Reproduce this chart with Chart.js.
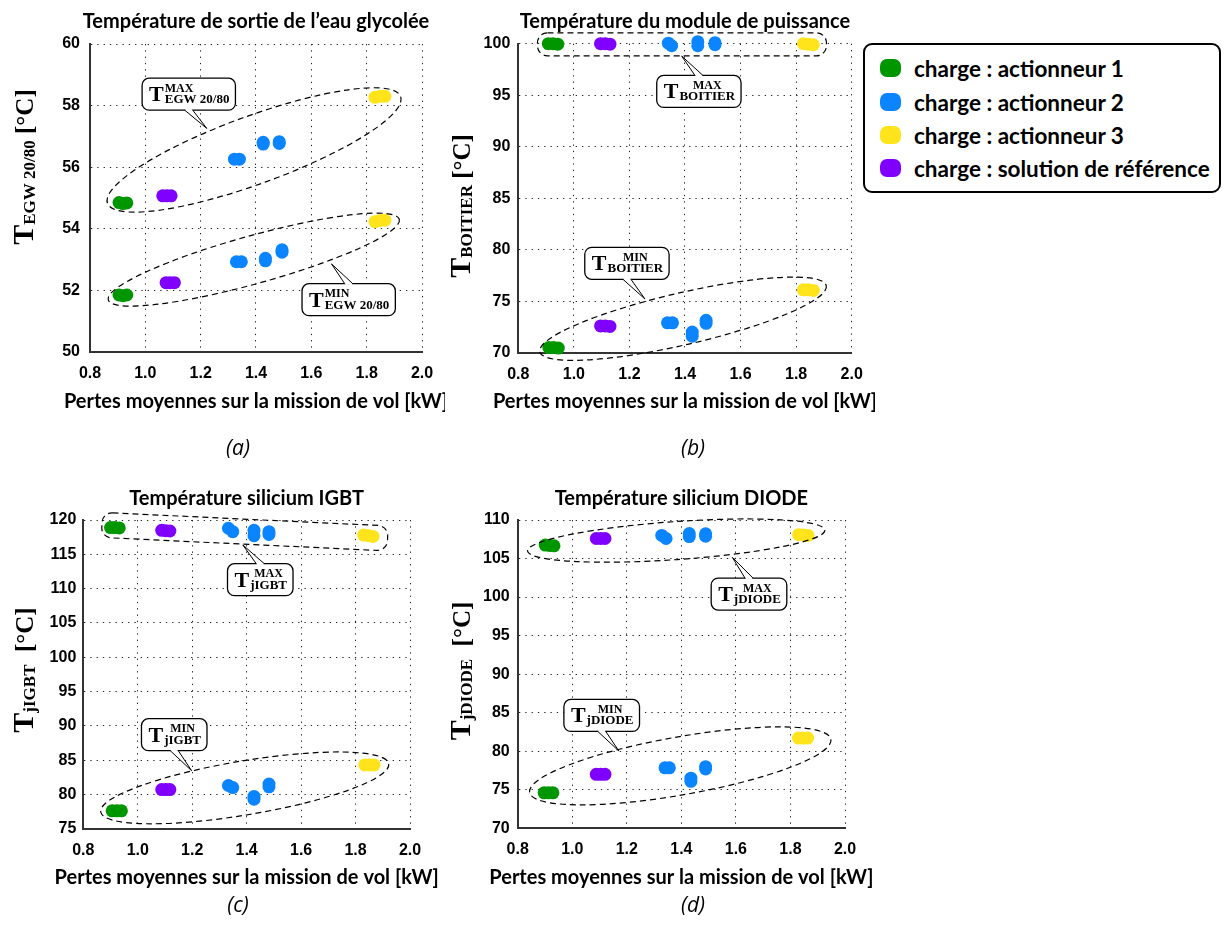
<!DOCTYPE html>
<html>
<head>
<meta charset="utf-8">
<script src="https://cdn.jsdelivr.net/npm/chart.js@4.4.1/dist/chart.umd.min.js"></script>
<style>
    body { margin: 0; background: #fff; width: 1228px; height: 940px; position: relative; overflow: hidden; font-family: Lato, sans-serif; }
    canvas { position: absolute; }
    .caption { position: absolute; width: 60px; text-align: center; font: italic 21px "Open Sans", sans-serif; color: #000; }
    .legend { position: absolute; left: 863px; top: 43px; width: 358px; height: 150px; border: 2px solid #000; border-radius: 9px; box-sizing: border-box; background: #fff; }
    .legend .item { position: absolute; left: 15px; height: 26px; display: flex; align-items: center; font: bold 22.5px Lato, sans-serif; color: #000; white-space: nowrap; }
    .legend .swatch { width: 21px; height: 18px; border-radius: 7px; margin-right: 13px; display: inline-block; }
</style>
</head>
<body>
<canvas id="cA" width="445" height="420" style="left:0;top:0"></canvas>
<canvas id="cB" width="445" height="420" style="left:430px;top:0"></canvas>
<canvas id="cC" width="445" height="440" style="left:0;top:460px"></canvas>
<canvas id="cD" width="445" height="440" style="left:430px;top:460px"></canvas>

<div class="caption" style="left:208px;top:433px">(a)</div>
<div class="caption" style="left:663px;top:433px">(b)</div>
<div class="caption" style="left:208px;top:890px">(c)</div>
<div class="caption" style="left:663px;top:890px">(d)</div>

<div class="legend" id="legend"></div>

<script>
/**
 * Températures vs pertes moyennes - 4 panneaux
 */

// Couleurs des séries
const COLORS = {
    act1: '#009600',
    act2: '#0a84ff',
    act3: '#ffe41c',
    ref: '#8000ff'
};

const SERIES_LABELS = [
    'charge : actionneur 1',
    'charge : actionneur 2',
    'charge : actionneur 3',
    'charge : solution de référence'
];

const X_TITLE = 'Pertes moyennes sur la mission de vol [kW]';

// (a) eau glycolée : groupe MAX puis groupe MIN
const egwAct1 = [[0.905, 54.85], [0.919, 54.82], [0.933, 54.84], [0.905, 51.85], [0.919, 51.83], [0.933, 51.85]];
const egwAct2 = [[1.322, 56.26], [1.34, 56.26], [1.426, 56.75], [1.426, 56.81], [1.484, 56.77], [1.484, 56.83],
                 [1.329, 52.93], [1.347, 52.93], [1.434, 52.96], [1.434, 53.04], [1.494, 53.24], [1.494, 53.32]];
const egwAct3 = [[1.83, 58.27], [1.848, 58.3], [1.866, 58.3], [1.83, 54.23], [1.848, 54.27], [1.866, 54.28]];
const egwRef = [[1.063, 55.07], [1.078, 55.07], [1.093, 55.07], [1.075, 52.25], [1.09, 52.25], [1.105, 52.25]];

// (b) module de puissance (boitier)
const boiAct1 = [[0.908, 100], [0.925, 100], [0.942, 99.95], [0.91, 70.5], [0.927, 70.5], [0.944, 70.45]];
const boiAct2 = [[1.34, 100.05], [1.352, 99.8], [1.446, 100.2], [1.446, 99.8], [1.508, 100.1], [1.508, 99.9],
                 [1.337, 72.9], [1.355, 72.9], [1.426, 72.0], [1.426, 71.6], [1.476, 73.15], [1.476, 72.85]];
const boiAct3 = [[1.826, 100], [1.844, 99.95], [1.862, 99.9], [1.826, 76.1], [1.844, 76.1], [1.862, 76.05]];
const boiRef = [[1.096, 100], [1.113, 100], [1.13, 99.95], [1.096, 72.6], [1.113, 72.6], [1.13, 72.55]];

// (c) silicium IGBT
const igbtAct1 = [[0.9, 118.9], [0.916, 118.9], [0.932, 118.85], [0.906, 77.6], [0.923, 77.6], [0.94, 77.6]];
const igbtAct2 = [[1.333, 118.8], [1.349, 118.3], [1.427, 118.5], [1.427, 117.7], [1.482, 118.3], [1.482, 117.9],
                  [1.333, 81.3], [1.349, 81.0], [1.427, 79.7], [1.427, 79.3], [1.482, 81.5], [1.482, 81.1]];
const igbtAct3 = [[1.83, 117.8], [1.847, 117.7], [1.864, 117.6], [1.834, 84.3], [1.851, 84.3], [1.868, 84.3]];
const igbtRef = [[1.088, 118.5], [1.103, 118.45], [1.118, 118.4], [1.088, 80.7], [1.103, 80.7], [1.118, 80.7]];

// (d) silicium DIODE
const diodeAct1 = [[0.901, 106.75], [0.917, 106.7], [0.933, 106.65], [0.897, 74.6], [0.913, 74.6], [0.929, 74.6]];
const diodeAct2 = [[1.328, 108.0], [1.344, 107.6], [1.429, 108.25], [1.429, 107.85], [1.489, 108.2], [1.489, 107.9],
                   [1.34, 77.85], [1.356, 77.85], [1.435, 76.5], [1.435, 76.1], [1.489, 78.0], [1.489, 77.7]];
const diodeAct3 = [[1.83, 108.1], [1.847, 108.05], [1.864, 108.0], [1.829, 81.7], [1.846, 81.7], [1.863, 81.7]];
const diodeRef = [[1.088, 107.6], [1.104, 107.6], [1.12, 107.6], [1.088, 77.0], [1.104, 77.0], [1.12, 77.0]];

// Axes
const X_RANGE = [0.8, 2.0];
const Y_RANGE_A = [50, 60];
const Y_RANGE_B = [70, 100];
const Y_RANGE_C = [75, 120];
const Y_RANGE_D = [70, 110];

// Panel setup: layout (pixels inside each canvas) and annotations
const PANELS = {
    cA: {
        title: 'Température de sortie de l\u2019eau glycolée',
        series: [egwAct1, egwAct2, egwAct3, egwRef],
        yRange: Y_RANGE_A, yStep: 2,
        plot: { left: 90, right: 422, top: 44, bottom: 352 },
        titleMid: 22, xTitleMid: 401.7, yPad: 10,
        yTitle: { x: 33, y: 167, sub: 'EGW 20/80', unit: ' [°C]' },
        ellipses: [
            { x: 1.393, y: 56.56, rx: 156, ry: 34, angle: 20 },
            { x: 1.392, y: 53.0, rx: 151, ry: 24, angle: 15.5 }
        ],
        rects: [],
        callouts: [
            { x: 1.157, y: 58.37, ax: 1.222, ay: 57.26, sup: 'MAX', sub: 'EGW 20/80', left: true },
            { x: 1.735, y: 51.70, ax: 1.673, ay: 52.86, sup: 'MIN', sub: 'EGW 20/80', left: true }
        ]
    },
    cB: {
        title: 'Température du module de puissance',
        series: [boiAct1, boiAct2, boiAct3, boiRef],
        yRange: Y_RANGE_B, yStep: 5,
        plot: { left: 88.3, right: 421.7, top: 43.7, bottom: 352.7 },
        titleMid: 22, xTitleMid: 401.7, yPad: 8,
        yTitle: { x: 40, y: 206, sub: 'BOITIER', unit: ' [°C]' },
        ellipses: [
            { x: 1.393, y: 73.3, rx: 147, ry: 26, angle: 13 }
        ],
        rects: [
            { x: 1.389, y: 99.94, w: 289, h: 23, r: 10, angle: 0 }
        ],
        callouts: [
            { x: 1.45, y: 95.37, ax: 1.388, ay: 98.8, sup: 'MAX', sub: 'BOITIER' },
            { x: 1.191, y: 78.68, ax: 1.256, ay: 75.21, sup: 'MIN', sub: 'BOITIER' }
        ]
    },
    cC: {
        title: 'Température silicium IGBT',
        series: [igbtAct1, igbtAct2, igbtAct3, igbtRef],
        yRange: Y_RANGE_C, yStep: 5,
        plot: { left: 83.3, right: 410, top: 60, bottom: 368.7 },
        titleMid: 38.3, xTitleMid: 417.3, yPad: 7,
        yTitle: { x: 33, y: 210, sub: 'jIGBT', unit: '  [°C]' },
        ellipses: [
            { x: 1.393, y: 80.95, rx: 146, ry: 27, angle: 9.5 }
        ],
        rects: [
            { x: 1.393, y: 118.3, w: 286, h: 25, r: 10, angle: 2.7 }
        ],
        callouts: [
            { x: 1.45, y: 111.3, ax: 1.386, ay: 116.36, sup: 'MAX', sub: 'jIGBT' },
            { x: 1.134, y: 88.71, ax: 1.198, ay: 83.45, sup: 'MIN', sub: 'jIGBT' }
        ]
    },
    cD: {
        title: 'Température silicium DIODE',
        series: [diodeAct1, diodeAct2, diodeAct3, diodeRef],
        yRange: Y_RANGE_D, yStep: 5,
        plot: { left: 87.7, right: 415, top: 60, bottom: 368.3 },
        titleMid: 38.3, xTitleMid: 417.7, yPad: 8,
        yTitle: { x: 40, y: 211, sub: 'jDIODE', unit: '  [°C]' },
        ellipses: [
            { x: 1.381, y: 107.33, rx: 149, ry: 19, angle: 4 },
            { x: 1.396, y: 78.1, rx: 153, ry: 29, angle: 10 }
        ],
        rects: [],
        callouts: [
            { x: 1.648, y: 100.39, ax: 1.587, ay: 105.15, sup: 'MAX', sub: 'jDIODE' },
            { x: 1.108, y: 84.65, ax: 1.171, ay: 80.03, sup: 'MIN', sub: 'jDIODE' }
        ]
    }
};

const SERIF = '"Liberation Serif", "DejaVu Serif", serif';
const TITLE_FONT = 'bold 20px Lato, sans-serif';
const XTITLE_FONT = 'bold 20px Lato, sans-serif';

function roundedRect(ctx, x, y, w, h, r) {
    ctx.beginPath();
    ctx.moveTo(x + r, y);
    ctx.arcTo(x + w, y, x + w, y + h, r);
    ctx.arcTo(x + w, y + h, x, y + h, r);
    ctx.arcTo(x, y + h, x, y, r);
    ctx.arcTo(x, y, x + w, y, r);
    ctx.closePath();
}

/**
 * Rotated y axis title with subscript
 */
function drawYTitle(ctx, t) {
    ctx.save();
    ctx.translate(t.x, t.y);
    ctx.rotate(-Math.PI / 2);
    const big = 'bold 30px ' + SERIF, small = 'bold 17px ' + SERIF, unit = 'bold 25px ' + SERIF;
    ctx.font = big; const wT = ctx.measureText('T').width;
    ctx.font = small; const wS = ctx.measureText(t.sub).width;
    ctx.font = unit; const wU = ctx.measureText(t.unit).width;
    let u = -(wT + wS + wU) / 2;
    ctx.fillStyle = '#000';
    ctx.textBaseline = 'alphabetic';
    ctx.textAlign = 'left';
    ctx.font = big; ctx.fillText('T', u, 0); u += wT;
    ctx.font = small; ctx.fillText(t.sub, u, 2); u += wS;
    ctx.font = unit; ctx.fillText(t.unit, u, 0);
    ctx.restore();
}

/**
 * Callout box "T^sup_sub" with a tail pointing to the group
 */
function drawCallout(ctx, xs, ys, c) {
    const cx = xs.getPixelForValue(c.x), cy = ys.getPixelForValue(c.y);
    const ax = xs.getPixelForValue(c.ax), ay = ys.getPixelForValue(c.ay);
    const fT = 'bold 22px ' + SERIF, fSup = 'bold 12px ' + SERIF, fSub = 'bold 13px ' + SERIF;
    ctx.font = fT; const wT = ctx.measureText('T').width;
    ctx.font = fSup; const wSup = ctx.measureText(c.sup).width;
    ctx.font = fSub; const wSub = ctx.measureText(c.sub).width;
    const wText = Math.max(wSup, wSub);
    const w = wT + wText + 14, h = 32;
    const left = cx - w / 2, top = cy - h / 2;
    const baseY = ay > cy ? top + h : top;

    ctx.save();
    ctx.setLineDash([]);
    ctx.lineWidth = 1.3;
    ctx.strokeStyle = '#000';
    ctx.fillStyle = '#fff';
    roundedRect(ctx, left, top, w, h, 7);
    ctx.fill();
    ctx.stroke();

    // tail
    ctx.beginPath();
    ctx.moveTo(cx - 4, baseY);
    ctx.lineTo(ax, ay);
    ctx.lineTo(cx + 4, baseY);
    ctx.closePath();
    ctx.fill();
    ctx.fillRect(cx - 3.3, baseY - 1.2, 6.6, 2.4);
    ctx.beginPath();
    ctx.moveTo(cx - 4, baseY);
    ctx.lineTo(ax, ay);
    ctx.moveTo(cx + 4, baseY);
    ctx.lineTo(ax, ay);
    ctx.lineWidth = 1;
    ctx.stroke();

    // text
    ctx.fillStyle = '#000';
    ctx.textBaseline = 'alphabetic';
    ctx.textAlign = 'left';
    const tx = left + 7;
    ctx.font = fT; ctx.fillText('T', tx, cy + 7);
    const sx = tx + wT + 1;
    ctx.font = fSup;
    ctx.fillText(c.sup, c.left ? sx : sx + (wText - wSup) / 2, cy - 2.5);
    ctx.font = fSub;
    ctx.fillText(c.sub, c.left ? sx : sx + (wText - wSub) / 2, cy + 9);
    ctx.restore();
}

// Annotation plugin (titles, ellipses, frames, callouts, y title)
const annotPlugin = {
    id: 'annot',
    afterDatasetsDraw(chart) {
        const p = PANELS[chart.canvas.id];
        const ctx = chart.ctx;
        const xs = chart.scales.x, ys = chart.scales.y;
        const area = chart.chartArea;
        const mid = (area.left + area.right) / 2;
        ctx.save();

        // panel title and x axis title
        ctx.fillStyle = '#000';
        ctx.textAlign = 'center';
        ctx.textBaseline = 'middle';
        ctx.font = TITLE_FONT;
        ctx.fillText(p.title, mid, p.titleMid);
        ctx.font = XTITLE_FONT;
        ctx.fillText(X_TITLE, mid, p.xTitleMid);

        ctx.strokeStyle = '#000';
        ctx.lineWidth = 1.2;
        ctx.setLineDash([6, 4]);
        p.ellipses.forEach(e => {
            ctx.beginPath();
            ctx.ellipse(xs.getPixelForValue(e.x), ys.getPixelForValue(e.y), e.rx, e.ry,
                -e.angle * Math.PI / 180, 0, 2 * Math.PI);
            ctx.stroke();
        });
        p.rects.forEach(r => {
            ctx.save();
            ctx.translate(xs.getPixelForValue(r.x), ys.getPixelForValue(r.y));
            ctx.rotate(r.angle * Math.PI / 180);
            roundedRect(ctx, -r.w / 2, -r.h / 2, r.w, r.h, r.r);
            ctx.stroke();
            ctx.restore();
        });
        ctx.setLineDash([]);
        p.callouts.forEach(c => drawCallout(ctx, xs, ys, c));
        drawYTitle(ctx, p.yTitle);
        ctx.restore();
    }
};

/**
 * Format dataset for Chart.js
 */
function formatDataset(label, points, color) {
    return {
        label: label,
        data: points.map(pt => ({ x: pt[0], y: pt[1] })),
        backgroundColor: color,
        borderColor: color,
        borderWidth: 0,
        pointRadius: 6.5,
        pointHoverRadius: 6.5,
        clip: false
    };
}

/**
 * Create one panel
 */
function createPanel(canvasId) {
    const p = PANELS[canvasId];
    const canvas = document.getElementById(canvasId);
    const W = canvas.width, H = canvas.height;

    const tickFont = { family: '"Liberation Sans", Arial, sans-serif', weight: 'bold', size: 16 };
    const gridOpts = { color: '#222', lineWidth: 1, drawTicks: false };
    const borderOpts = { display: true, color: '#333', width: 2, dash: [1.3, 5] };

    return new Chart(canvas, {
        type: 'scatter',
        data: {
            datasets: [
                formatDataset(SERIES_LABELS[0], p.series[0], COLORS.act1),
                formatDataset(SERIES_LABELS[1], p.series[1], COLORS.act2),
                formatDataset(SERIES_LABELS[2], p.series[2], COLORS.act3),
                formatDataset(SERIES_LABELS[3], p.series[3], COLORS.ref)
            ]
        },
        options: {
            responsive: false,
            animation: false,
            devicePixelRatio: 1,
            layout: {
                autoPadding: false,
                padding: { top: p.plot.top, left: 0, right: W - p.plot.right, bottom: 0 }
            },
            plugins: {
                legend: { display: false },
                tooltip: { enabled: false },
                title: { display: false }
            },
            scales: {
                x: {
                    type: 'linear',
                    min: X_RANGE[0],
                    max: X_RANGE[1],
                    ticks: {
                        stepSize: 0.2,
                        padding: 12,
                        color: '#000',
                        font: tickFont,
                        callback: v => v.toFixed(1)
                    },
                    grid: gridOpts,
                    border: borderOpts,
                    title: { display: false },
                    afterFit: scale => {
                        scale.height = H - p.plot.bottom;
                        scale.paddingLeft = 0;
                        scale.paddingRight = 0;
                    }
                },
                y: {
                    type: 'linear',
                    min: p.yRange[0],
                    max: p.yRange[1],
                    ticks: {
                        stepSize: p.yStep,
                        padding: p.yPad,
                        color: '#000',
                        font: tickFont
                    },
                    grid: gridOpts,
                    border: borderOpts,
                    afterFit: scale => {
                        scale.width = p.plot.left;
                        scale.paddingTop = 0;
                        scale.paddingBottom = 0;
                    }
                }
            }
        },
        plugins: [annotPlugin]
    });
}

/**
 * Legend (HTML)
 */
function buildLegend() {
    const box = document.getElementById('legend');
    const colors = [COLORS.act1, COLORS.act2, COLORS.act3, COLORS.ref];
    const tops = [10, 44, 77, 110];
    SERIES_LABELS.forEach((label, i) => {
        const item = document.createElement('div');
        item.className = 'item';
        item.style.top = tops[i] + 'px';
        const sw = document.createElement('span');
        sw.className = 'swatch';
        sw.style.background = colors[i];
        item.appendChild(sw);
        item.appendChild(document.createTextNode(label));
        box.appendChild(item);
    });
}

buildLegend();
['cA', 'cB', 'cC', 'cD'].forEach(createPanel);
</script>
</body>
</html>
